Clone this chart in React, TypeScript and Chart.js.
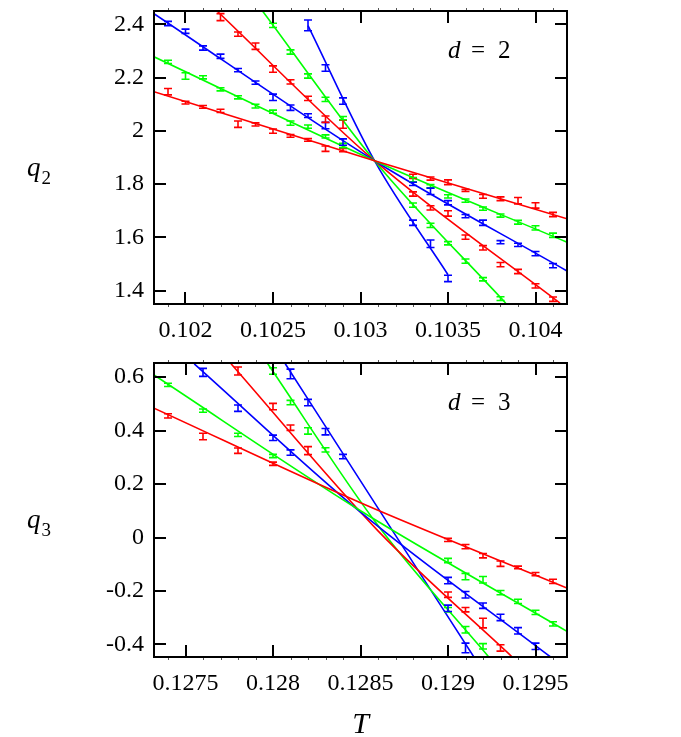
import React, { useEffect, useRef } from "react";
import { Chart, registerables } from "chart.js";

Chart.register(...registerables);

const SERIF = '"Liberation Serif", "Times New Roman", Times, serif';
const RED = "#ff0000";
const GREEN = "#00ff00";
const BLUE = "#0000ff";

// ---------------- panel d = 2 ----------------
const d2XRange = [0.10182, 0.10418];
const d2YRange = [1.35, 2.45];
const d2XTicks = [0.102, 0.1025, 0.103, 0.1035, 0.104];
const d2XTickLabels = ["0.102", "0.1025", "0.103", "0.1035", "0.104"];
const d2YTicks = [1.4, 1.6, 1.8, 2.0, 2.2, 2.4];
const d2YTickLabels = ["1.4", "1.6", "1.8", "2", "2.2", "2.4"];

const d2R1T = [0.1019, 0.102, 0.1021, 0.1022, 0.1023, 0.1024, 0.1025, 0.1026, 0.1027, 0.1028, 0.1029, 0.1033, 0.1034, 0.1035, 0.1036, 0.1037, 0.1038, 0.1039, 0.104, 0.1041];
const d2R1Q = [2.147, 2.106, 2.09, 2.075, 2.025, 2.024, 1.999, 1.981, 1.966, 1.933, 1.928, 1.829, 1.821, 1.807, 1.777, 1.754, 1.745, 1.738, 1.72, 1.686];
const d2R1E = [0.012, 0.005, 0.005, 0.006, 0.012, 0.006, 0.008, 0.005, 0.005, 0.01, 0.006, 0.008, 0.006, 0.009, 0.004, 0.007, 0.007, 0.012, 0.01, 0.008];
const d2R1FitT = [0.10182, 0.10308, 0.10418];
const d2R1FitQ = [2.147, 1.888, 1.67];

const d2G1T = [0.1019, 0.102, 0.1021, 0.1022, 0.1023, 0.1024, 0.1025, 0.1026, 0.1027, 0.1028, 0.1029, 0.1033, 0.1034, 0.1035, 0.1036, 0.1037, 0.1038, 0.1039, 0.104, 0.1041];
const d2G1Q = [2.259, 2.206, 2.201, 2.156, 2.126, 2.093, 2.072, 2.029, 2.016, 1.979, 1.945, 1.817, 1.792, 1.754, 1.738, 1.708, 1.682, 1.657, 1.636, 1.608];
const d2G1E = [0.006, 0.012, 0.006, 0.006, 0.006, 0.007, 0.006, 0.008, 0.006, 0.006, 0.008, 0.008, 0.006, 0.006, 0.006, 0.006, 0.006, 0.007, 0.008, 0.008];
const d2G1FitT = [0.10182, 0.10308, 0.10418];
const d2G1FitQ = [2.278, 1.888, 1.582];

const d2B1T = [0.1019, 0.102, 0.1021, 0.1022, 0.1023, 0.1024, 0.1025, 0.1026, 0.1027, 0.1028, 0.1029, 0.1033, 0.1034, 0.1035, 0.1036, 0.1037, 0.1038, 0.1039, 0.104, 0.1041];
const d2B1Q = [2.403, 2.374, 2.311, 2.28, 2.228, 2.181, 2.126, 2.087, 2.057, 2.02, 1.958, 1.801, 1.773, 1.73, 1.68, 1.655, 1.582, 1.572, 1.539, 1.494];
const d2B1E = [0.008, 0.008, 0.008, 0.008, 0.006, 0.006, 0.012, 0.01, 0.007, 0.012, 0.012, 0.006, 0.012, 0.008, 0.006, 0.01, 0.006, 0.006, 0.008, 0.008];
const d2B1FitT = [0.10182, 0.10308, 0.10418];
const d2B1FitQ = [2.44, 1.888, 1.474];

const d2R2T = [0.1022, 0.1023, 0.1024, 0.1025, 0.1026, 0.1027, 0.1028, 0.1029, 0.1033, 0.1034, 0.1035, 0.1036, 0.1037, 0.1038, 0.1039, 0.104, 0.1041];
const d2R2Q = [2.427, 2.363, 2.318, 2.232, 2.184, 2.122, 2.044, 2.025, 1.763, 1.711, 1.69, 1.601, 1.561, 1.498, 1.472, 1.418, 1.368];
const d2R2E = [0.013, 0.008, 0.012, 0.012, 0.008, 0.008, 0.012, 0.015, 0.008, 0.008, 0.01, 0.008, 0.008, 0.008, 0.008, 0.008, 0.008];
const d2R2FitT = [0.10218, 0.10308, 0.10414];
const d2R2FitQ = [2.45, 1.888, 1.353];

const d2G2T = [0.1025, 0.1026, 0.1027, 0.1028, 0.1029, 0.1033, 0.1034, 0.1035, 0.1036, 0.1037, 0.1038];
const d2G2Q = [2.396, 2.296, 2.206, 2.118, 2.048, 1.721, 1.645, 1.578, 1.511, 1.443, 1.37];
const d2G2E = [0.008, 0.008, 0.008, 0.008, 0.006, 0.008, 0.008, 0.006, 0.008, 0.006, 0.007];
const d2G2FitT = [0.10244, 0.10308, 0.10383];
const d2G2FitQ = [2.45, 1.888, 1.353];

const d2B2T = [0.1027, 0.1028, 0.1029, 0.1033, 0.1034, 0.1035];
const d2B2Q = [2.396, 2.236, 2.112, 1.655, 1.576, 1.446];
const d2B2E = [0.02, 0.012, 0.012, 0.01, 0.014, 0.012];
const d2B2FitT = [0.1027, 0.10308, 0.1035];
const d2B2FitQ = [2.395, 1.888, 1.46];

// ---------------- panel d = 3 ----------------
const d3XRange = [0.12732, 0.12968];
const d3YRange = [-0.447, 0.653];
const d3XTicks = [0.1275, 0.128, 0.1285, 0.129, 0.1295];
const d3XTickLabels = ["0.1275", "0.128", "0.1285", "0.129", "0.1295"];
const d3YTicks = [-0.4, -0.2, 0, 0.2, 0.4, 0.6];
const d3YTickLabels = ["-0.4", "-0.2", "0", "0.2", "0.4", "0.6"];

const d3R1T = [0.1274, 0.1276, 0.1278, 0.128, 0.129, 0.1291, 0.1292, 0.1293, 0.1294, 0.1295, 0.1296];
const d3R1Q = [0.455, 0.378, 0.325, 0.276, -0.009, -0.034, -0.068, -0.098, -0.112, -0.137, -0.164];
const d3R1E = [0.008, 0.012, 0.01, 0.006, 0.006, 0.008, 0.008, 0.01, 0.005, 0.006, 0.008];
const d3R1FitT = [0.12732, 0.1285, 0.12968];
const d3R1FitQ = [0.484, 0.13, -0.189];

const d3G1T = [0.1274, 0.1276, 0.1278, 0.128, 0.129, 0.1291, 0.1292, 0.1293, 0.1294, 0.1295, 0.1296];
const d3G1Q = [0.571, 0.475, 0.384, 0.305, -0.086, -0.146, -0.158, -0.206, -0.239, -0.28, -0.323];
const d3G1E = [0.006, 0.006, 0.006, 0.006, 0.008, 0.012, 0.012, 0.008, 0.008, 0.008, 0.008];
const d3G1FitT = [0.12732, 0.1285, 0.12968];
const d3G1FitQ = [0.608, 0.1, -0.351];

const d3B1T = [0.1276, 0.1278, 0.128, 0.1281, 0.129, 0.1291, 0.1292, 0.1293, 0.1294, 0.1295];
const d3B1Q = [0.618, 0.484, 0.373, 0.318, -0.161, -0.214, -0.255, -0.299, -0.349, -0.407];
const d3B1E = [0.015, 0.012, 0.01, 0.01, 0.012, 0.012, 0.01, 0.012, 0.012, 0.012];
const d3B1FitT = [0.12755, 0.1285, 0.129586];
const d3B1FitQ = [0.65, 0.095, -0.447];

const d3R2T = [0.1278, 0.128, 0.1281, 0.1282, 0.129, 0.1291, 0.1292, 0.1293];
const d3R2Q = [0.623, 0.49, 0.411, 0.325, -0.214, -0.27, -0.32, -0.413];
const d3R2E = [0.015, 0.012, 0.01, 0.015, 0.01, 0.008, 0.018, 0.012];
const d3R2FitT = [0.12776, 0.1286, 0.129367];
const d3R2FitQ = [0.65, 0.025, -0.447];

const d3G2T = [0.128, 0.1281, 0.1282, 0.1283, 0.129, 0.1291, 0.1292];
const d3G2Q = [0.623, 0.505, 0.399, 0.328, -0.27, -0.345, -0.407];
const d3G2E = [0.012, 0.008, 0.012, 0.008, 0.008, 0.012, 0.01];
const d3G2FitT = [0.12797, 0.1286, 0.129233];
const d3G2FitQ = [0.65, 0.045, -0.447];

const d3B2T = [0.1281, 0.1282, 0.1283, 0.1284, 0.129, 0.1291];
const d3B2Q = [0.612, 0.505, 0.396, 0.303, -0.265, -0.413];
const d3B2E = [0.018, 0.012, 0.012, 0.008, 0.012, 0.018];
const d3B2FitT = [0.12807, 0.1286, 0.129148];
const d3B2FitQ = [0.65, 0.11, -0.447];

type Series = { color: string; t: number[]; q: number[]; e: number[]; fitT: number[]; fitQ: number[] };
type PanelSpec = {
  xRange: number[]; yRange: number[];
  xTicks: number[]; xTickLabels: string[];
  yTicks: number[]; yTickLabels: string[];
  series: Series[];
  sub: string; dVal: string; showT: boolean;
  padTop: number; xAxisHeight: number;
};

const panelD2: PanelSpec = {
  xRange: d2XRange, yRange: d2YRange, xTicks: d2XTicks, xTickLabels: d2XTickLabels,
  yTicks: d2YTicks, yTickLabels: d2YTickLabels,
  series: [
    { color: RED, t: d2R1T, q: d2R1Q, e: d2R1E, fitT: d2R1FitT, fitQ: d2R1FitQ },
    { color: GREEN, t: d2G1T, q: d2G1Q, e: d2G1E, fitT: d2G1FitT, fitQ: d2G1FitQ },
    { color: BLUE, t: d2B1T, q: d2B1Q, e: d2B1E, fitT: d2B1FitT, fitQ: d2B1FitQ },
    { color: RED, t: d2R2T, q: d2R2Q, e: d2R2E, fitT: d2R2FitT, fitQ: d2R2FitQ },
    { color: GREEN, t: d2G2T, q: d2G2Q, e: d2G2E, fitT: d2G2FitT, fitQ: d2G2FitQ },
    { color: BLUE, t: d2B2T, q: d2B2Q, e: d2B2E, fitT: d2B2FitT, fitQ: d2B2FitQ },
  ],
  sub: "2", dVal: "2", showT: false, padTop: 11, xAxisHeight: 41,
};

const panelD3: PanelSpec = {
  xRange: d3XRange, yRange: d3YRange, xTicks: d3XTicks, xTickLabels: d3XTickLabels,
  yTicks: d3YTicks, yTickLabels: d3YTickLabels,
  series: [
    { color: RED, t: d3R1T, q: d3R1Q, e: d3R1E, fitT: d3R1FitT, fitQ: d3R1FitQ },
    { color: GREEN, t: d3G1T, q: d3G1Q, e: d3G1E, fitT: d3G1FitT, fitQ: d3G1FitQ },
    { color: BLUE, t: d3B1T, q: d3B1Q, e: d3B1E, fitT: d3B1FitT, fitQ: d3B1FitQ },
    { color: RED, t: d3R2T, q: d3R2Q, e: d3R2E, fitT: d3R2FitT, fitQ: d3R2FitQ },
    { color: GREEN, t: d3G2T, q: d3G2Q, e: d3G2E, fitT: d3G2FitT, fitQ: d3G2FitQ },
    { color: BLUE, t: d3B2T, q: d3B2Q, e: d3B2E, fitT: d3B2FitT, fitQ: d3B2FitQ },
  ],
  sub: "3", dVal: "3", showT: true, padTop: 18, xAxisHeight: 80,
};

const errorBarPlugin = {
  id: "errorBars",
  afterDatasetsDraw(chart: any) {
    const { ctx, chartArea: a, scales } = chart;
    ctx.save();
    ctx.beginPath();
    ctx.rect(a.left, a.top, a.right - a.left, a.bottom - a.top);
    ctx.clip();
    chart.data.datasets.forEach((ds: any) => {
      if (!ds.errors) return;
      ctx.strokeStyle = ds.borderColor;
      ctx.lineWidth = 1.6;
      ds.data.forEach((p: any, j: number) => {
        const x = scales.x.getPixelForValue(p.x);
        const y1 = scales.y.getPixelForValue(p.y - ds.errors[j]);
        const y2 = scales.y.getPixelForValue(p.y + ds.errors[j]);
        ctx.beginPath();
        ctx.moveTo(x, y1);
        ctx.lineTo(x, y2);
        ctx.moveTo(x - 4, y1);
        ctx.lineTo(x + 4, y1);
        ctx.moveTo(x - 4, y2);
        ctx.lineTo(x + 4, y2);
        ctx.stroke();
      });
    });
    ctx.restore();
  },
};

function framePlugin(p: PanelSpec) {
  return {
    id: "frame",
    afterDraw(chart: any) {
      const { ctx, chartArea: a, scales } = chart;
      ctx.save();
      ctx.strokeStyle = "#000";
      ctx.lineWidth = 2;
      ctx.strokeRect(a.left, a.top, a.right - a.left, a.bottom - a.top);
      ctx.beginPath();
      p.xTicks.forEach((v) => {
        const x = Math.round(scales.x.getPixelForValue(v));
        ctx.moveTo(x, a.bottom);
        ctx.lineTo(x, a.bottom - 12);
        ctx.moveTo(x, a.top);
        ctx.lineTo(x, a.top + 12);
      });
      p.yTicks.forEach((v) => {
        const y = Math.round(scales.y.getPixelForValue(v));
        ctx.moveTo(a.left, y);
        ctx.lineTo(a.left + 12, y);
        ctx.moveTo(a.right, y);
        ctx.lineTo(a.right - 12, y);
      });
      ctx.stroke();
      // minor x ticks (five per major interval)
      const step = (p.xTicks[1] - p.xTicks[0]) / 5;
      ctx.lineWidth = 1;
      ctx.strokeStyle = "#555";
      ctx.beginPath();
      p.xTicks.forEach((m) => {
        for (let k = -4; k <= 4; k++) {
          if (k === 0) continue;
          const v = m + k * step;
          if (v <= p.xRange[0] || v >= p.xRange[1]) continue;
          const x = Math.round(scales.x.getPixelForValue(v)) + 0.5;
          ctx.moveTo(x, a.bottom + 1);
          ctx.lineTo(x, a.bottom + 3);
          ctx.moveTo(x, a.top - 1);
          ctx.lineTo(x, a.top - 3);
        }
      });
      ctx.stroke();
      ctx.restore();
    },
  };
}

function textPlugin(p: PanelSpec) {
  return {
    id: "texts",
    afterDraw(chart: any) {
      const { ctx, chartArea: a } = chart;
      ctx.save();
      ctx.fillStyle = "#000";
      ctx.textBaseline = "alphabetic";
      ctx.textAlign = "left";
      ctx.font = `italic 27px ${SERIF}`;
      ctx.fillText("q", 27, a.top + 165);
      const w = ctx.measureText("q").width;
      ctx.font = `19px ${SERIF}`;
      ctx.fillText(p.sub, 27 + w + 1, a.top + 173);
      ctx.font = `italic 25px ${SERIF}`;
      ctx.fillText("d", 448, a.top + 47);
      ctx.font = `25px ${SERIF}`;
      ctx.fillText("=", 471, a.top + 47);
      ctx.fillText(p.dVal, 498, a.top + 47);
      if (p.showT) {
        ctx.font = `italic 30px ${SERIF}`;
        ctx.textAlign = "center";
        ctx.fillText("T", (a.left + a.right) / 2, a.bottom + 76);
      }
      ctx.restore();
    },
  };
}

function buildConfig(p: PanelSpec): any {
  const datasets: any[] = [];
  p.series.forEach((s) => {
    datasets.push({
      data: s.fitT.map((x, i) => ({ x, y: s.fitQ[i] })),
      borderColor: s.color,
      backgroundColor: s.color,
      borderWidth: 1.6,
      showLine: true,
      pointRadius: 0,
      pointHoverRadius: 0,
      cubicInterpolationMode: "monotone",
      fill: false,
    });
    datasets.push({
      data: s.t.map((x, i) => ({ x, y: s.q[i] })),
      errors: s.e,
      borderColor: s.color,
      backgroundColor: s.color,
      showLine: false,
      pointRadius: 0,
      pointHoverRadius: 0,
    });
  });
  const tickFont = { family: SERIF, size: 24 };
  return {
    type: "scatter",
    data: { datasets },
    options: {
      animation: false,
      responsive: false,
      events: [],
      layout: { padding: { left: 0, right: 114, top: p.padTop, bottom: 0 } },
      plugins: { legend: { display: false }, tooltip: { enabled: false } },
      scales: {
        x: {
          type: "linear",
          min: p.xRange[0],
          max: p.xRange[1],
          grid: { display: false, drawTicks: false },
          border: { display: false },
          ticks: {
            font: tickFont,
            color: "#000",
            padding: 12,
            maxRotation: 0,
            autoSkip: false,
            callback: (_v: any, i: number) => p.xTickLabels[i],
          },
          afterBuildTicks: (s: any) => {
            s.ticks = p.xTicks.map((v) => ({ value: v }));
          },
          afterFit: (s: any) => {
            s.height = p.xAxisHeight;
            s.paddingLeft = 0;
            s.paddingRight = 0;
          },
        },
        y: {
          type: "linear",
          min: p.yRange[0],
          max: p.yRange[1],
          grid: { display: false, drawTicks: false },
          border: { display: false },
          ticks: {
            font: tickFont,
            color: "#000",
            padding: 10,
            autoSkip: false,
            callback: (_v: any, i: number) => p.yTickLabels[i],
          },
          afterBuildTicks: (s: any) => {
            s.ticks = p.yTicks.map((v) => ({ value: v }));
          },
          afterFit: (s: any) => {
            s.width = 154;
            s.paddingTop = 0;
            s.paddingBottom = 0;
          },
        },
      },
    },
    plugins: [errorBarPlugin, framePlugin(p), textPlugin(p)],
  };
}

function Panel({ spec, top, height }: { spec: PanelSpec; top: number; height: number }) {
  const ref = useRef<HTMLCanvasElement | null>(null);
  useEffect(() => {
    const chart = new Chart(ref.current as HTMLCanvasElement, buildConfig(spec));
    return () => chart.destroy();
  }, [spec]);
  return (
    <canvas
      ref={ref}
      width={681}
      height={height}
      style={{ position: "absolute", left: 0, top, width: 681, height, display: "block" }}
    />
  );
}

export default function App() {
  return (
    <div style={{ position: "absolute", left: 0, top: 0, width: 681, height: 737, background: "#fff" }}>
      <Panel spec={panelD2} top={0} height={345} />
      <Panel spec={panelD3} top={345} height={392} />
    </div>
  );
}
